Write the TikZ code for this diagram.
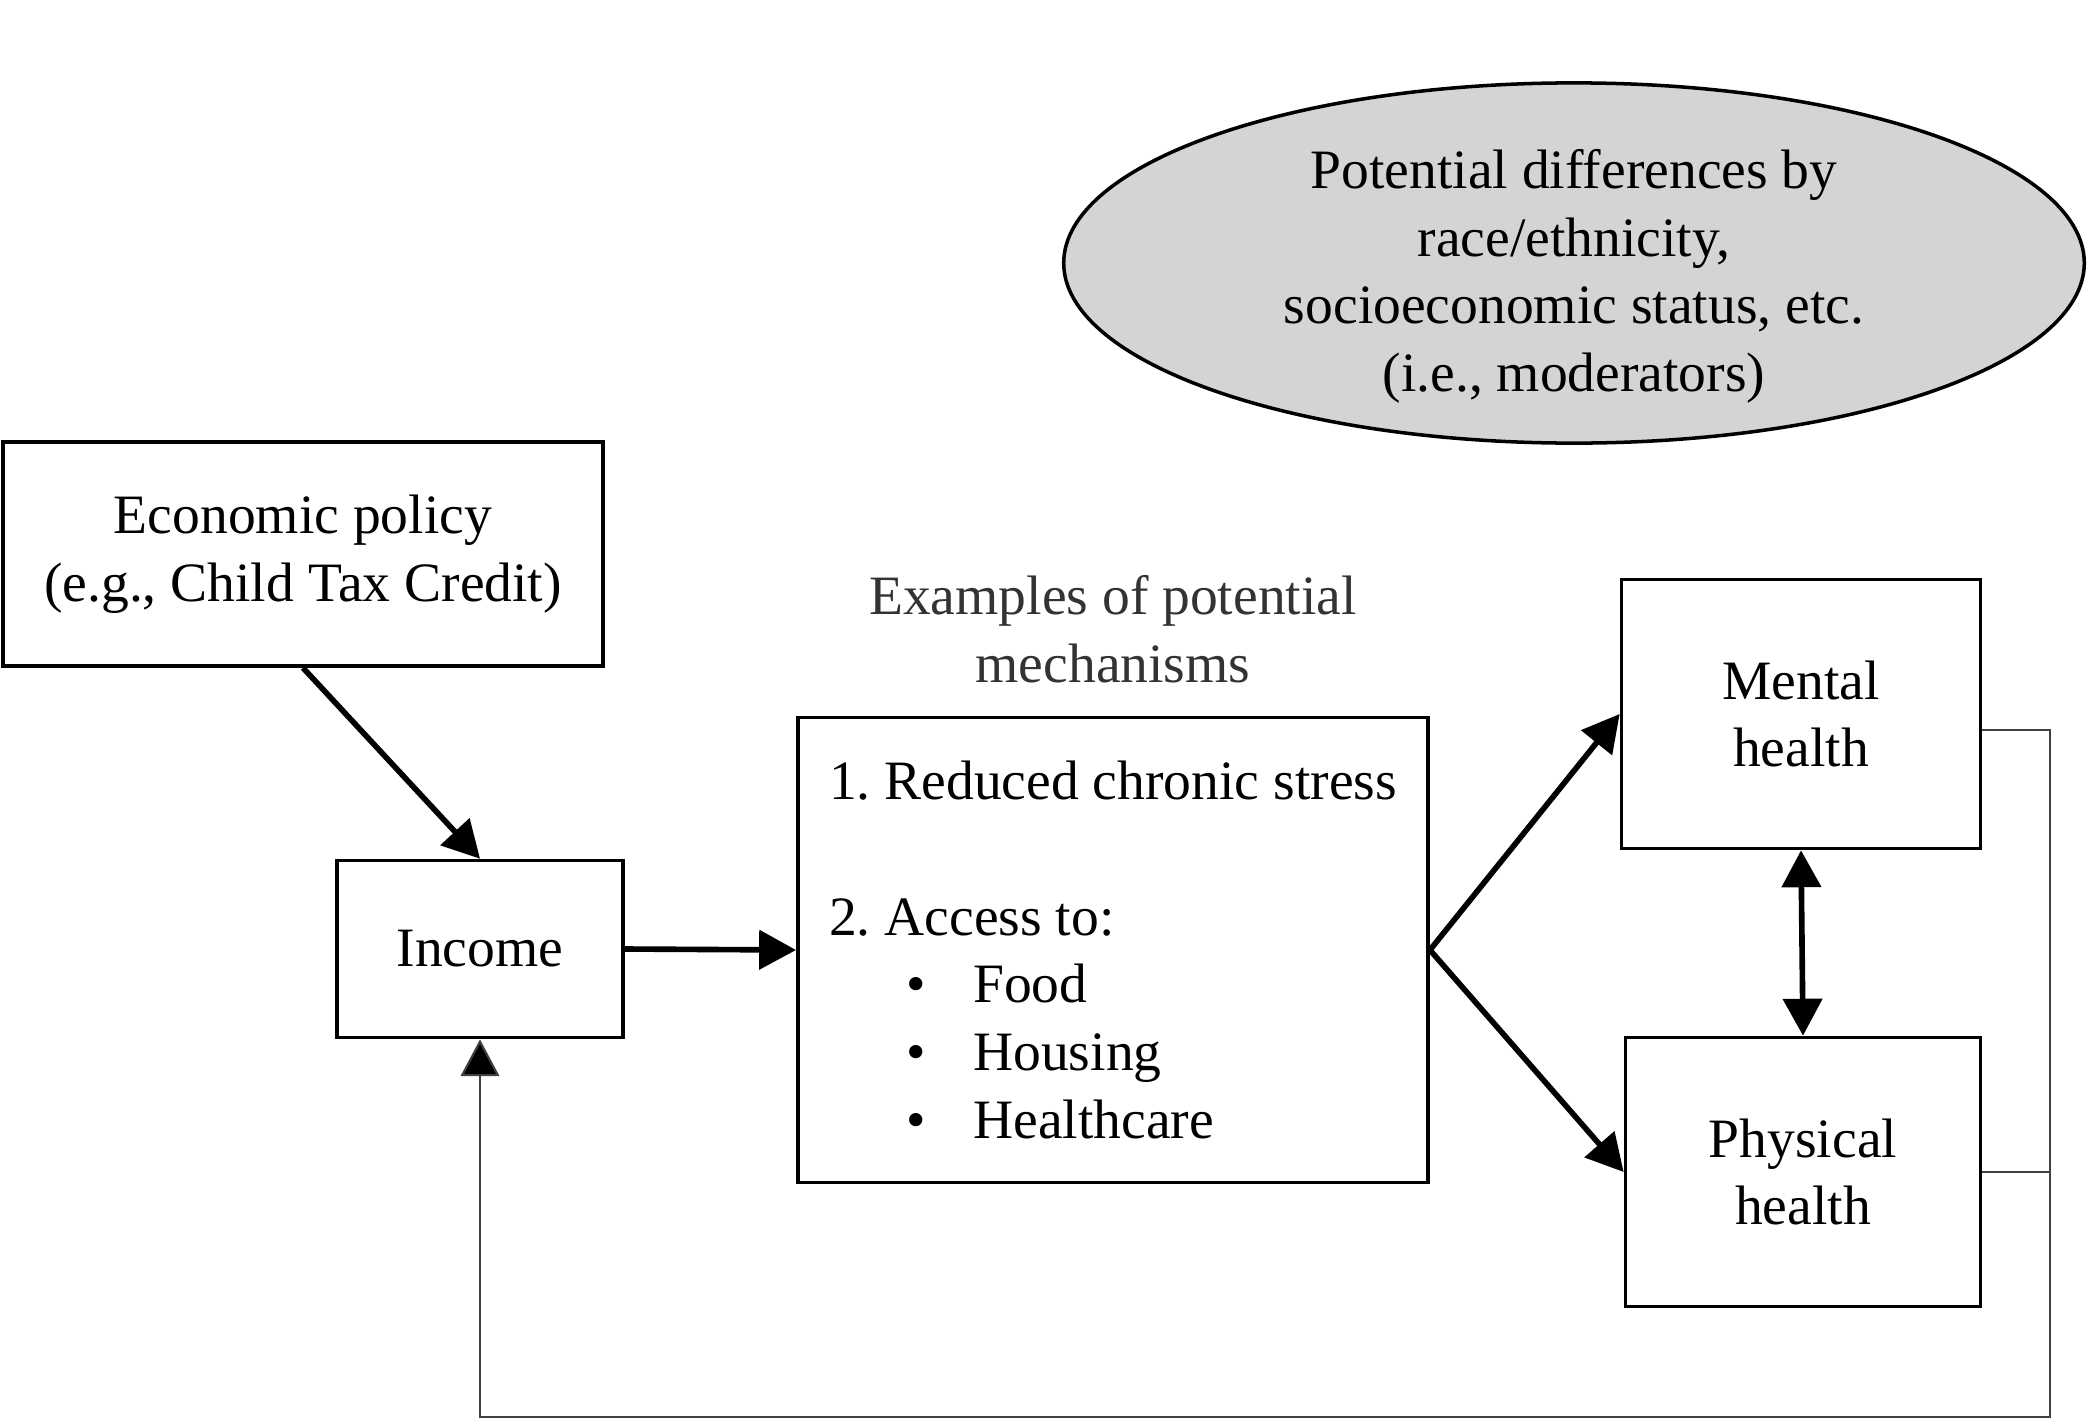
\documentclass[tikz,border=0pt]{standalone}
\usepackage{fontspec}
\setmainfont{Liberation Serif}
\usepackage{tikz}
\usetikzlibrary{shapes.geometric, arrows.meta, positioning}
\frenchspacing

\begin{document}
\begin{tikzpicture}[
x=0.01cm, y=-0.01cm,
every node/.style={font=\fontsize{15.8}{19.3}\selectfont},
box/.style={
    rectangle,
    draw=black,
    line width=1pt,
    align=center,
    inner sep=0pt
},
moderator/.style={
    ellipse,
    draw=black,
    line width=1pt,
    fill=black!17,
    inner sep=0pt,
    minimum width=10.2cm,
    minimum height=3.6cm
},
arrow/.style={
    -{Triangle[length=10.5pt, width=11pt]},
    line width=1.6pt
},
feedback/.style={
    -{Triangle[length=10.5pt, width=11pt, fill=black]},
    line width=0.6pt,
    draw=black!75
}
]
\useasboundingbox (0,0) rectangle (2100,1424);

\node (mods) [moderator] at (1574,263) {\smash{\raisebox{-7.4pt}{\begin{tabular}{@{}c@{}}
Potential differences by\\
race/ethnicity,\\
socioeconomic status, etc.\\
(i.e., moderators)
\end{tabular}}}};

\node (policy) [box, minimum width=6cm, minimum height=2.24cm] at (303,554) {
Economic policy\\
(e.g., Child Tax Credit)
};

\node (income) [box, minimum width=2.86cm, minimum height=1.77cm] at (480,949) {Income};

\node (mech) [box, minimum width=6.3cm, minimum height=4.65cm, align=left] at (1113,950) {
1. Reduced chronic stress\\[19.3pt]
2. Access to:\\
\hspace*{22pt}\makebox[19pt][l]{\textbullet}Food\\
\hspace*{22pt}\makebox[19pt][l]{\textbullet}Housing\\
\hspace*{22pt}\makebox[19pt][l]{\textbullet}Healthcare
};

\node (mechlabel) [above=0.2cm of mech, text=black!80, align=center] {
Examples of potential\\
mechanisms
};

\node (mental) [box, minimum width=3.59cm, minimum height=2.69cm] at (1801,714) {
Mental\\
health
};

\node (physical) [box, minimum width=3.55cm, minimum height=2.69cm] at (1803,1172) {
Physical\\
health
};

\coordinate (loop) at (2050,1417);

\draw [arrow] (policy.south) -- (income.north);
\draw [arrow] (income.east) -- (mech.west);
\draw [arrow] (mech.east) -- (mental.west);
\draw [arrow] (mech.east) -- (physical.west);
\draw [arrow, {Triangle[length=10.5pt, width=11pt]}-{Triangle[length=10.5pt, width=11pt]}] (mental.south) -- (physical.north);

\draw [feedback] ([yshift=-0.16cm]mental.east) -| (loop) -| (income.south);
\draw [feedback, -] (physical.east) -- (physical.east -| loop);

\end{tikzpicture}
\end{document}
